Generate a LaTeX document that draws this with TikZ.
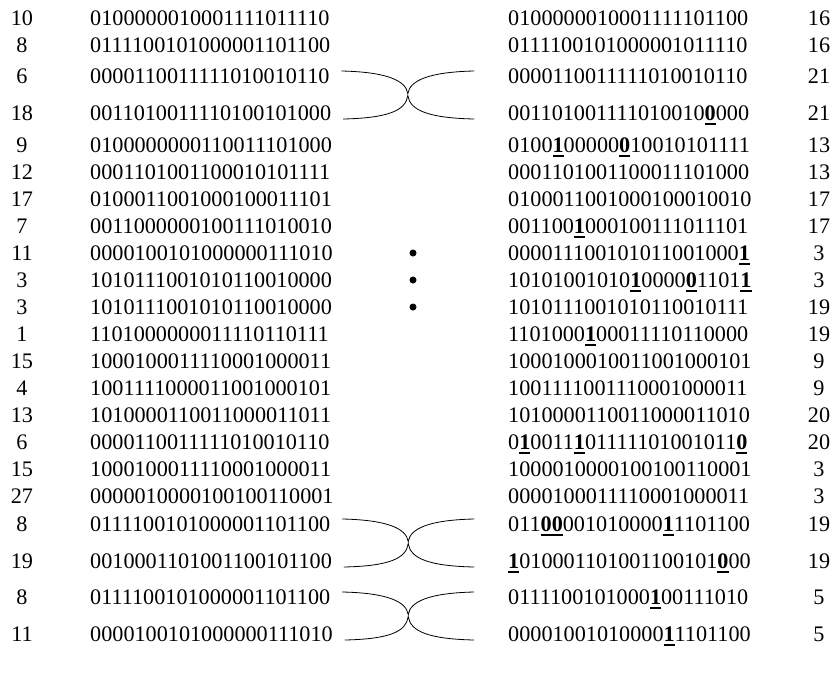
\documentclass[tikz,border=0pt]{standalone}
\usepackage{fontspec}
\setmainfont{Liberation Serif}
\usetikzlibrary{calc}
\newcommand{\ub}[1]{\setbox0\hbox{\textbf{#1}}\rlap{\rule[-4.5pt]{\wd0}{2.5pt}}\box0\relax}
\begin{document}
\begin{tikzpicture}[x=1pt,y=-1pt,
  txt/.style={inner sep=0pt,font=\fontsize{22.2}{26}\selectfont},
  lnum/.style={txt,anchor=base},
  rnum/.style={txt,anchor=base},
  lstr/.style={txt,anchor=base west},
  rstr/.style={txt,anchor=base west},
  xcurve/.style={line width=0.8pt,line cap=round},
  dotm/.style={circle,fill=black,inner sep=0pt,minimum size=7pt}]
\useasboundingbox (0,0) rectangle (838,675);
\def\lx{22}\def\sx{90}\def\rx{508}\def\mx{819}
\foreach \i/\b/\ln/\ls/\rs/\rn in {
 1/25.5/10/0100000010001111011110/0100000010001111101100/16,
 2/52.5/8/0111100101000001101100/0111100101000001011110/16,
 3/83.5/6/0000110011111010010110/0000110011111010010110/21,
 4/120.5/18/0011010011110100101000/{001101001111010010\ub{0}000}/21,
 5/152.5/9/0100000000110011101000/{0100\ub{1}00000\ub{0}10010101111}/13,
 6/179.5/12/0001101001100010101111/0001101001100011101000/13,
 7/206.5/17/0100011001000100011101/0100011001000100010010/17,
 8/233.5/7/0011000000100111010010/{001100\ub{1}000100111011101}/17,
 9/260.5/11/0000100101000000111010/{000011100101011001000\ub{1}}/3,
 10/287.5/3/1010111001010110010000/{10101001010\ub{1}0000\ub{0}1101\ub{1}}/3,
 11/314.5/3/1010111001010110010000/1010111001010110010111/19,
 12/341.5/1/1101000000011110110111/{1101000\ub{1}00011110110000}/19,
 13/368.5/15/1000100011110001000011/1000100010011001000101/9,
 14/395.5/4/1001111000011001000101/1001111001110001000011/9,
 15/422.5/13/1010000110011000011011/1010000110011000011010/20,
 16/449.5/6/0000110011111010010110/{0\ub{1}0011\ub{1}01111101001011\ub{0}}/20,
 17/476.5/15/1000100011110001000011/1000010000100100110001/3,
 18/503.5/27/0000010000100100110001/0000100011110001000011/3,
 19/531.5/8/0111100101000001101100/{011\ub{00}001010000\ub{1}1101100}/19,
 20/568.5/19/0010001101001100101100/{\ub{1}010001101001100101\ub{0}00}/19,
 21/604.5/8/0111100101000001101100/{0111100101000\ub{1}00111010}/5,
 22/641.5/11/0000100101000000111010/{00001001010000\ub{1}1101100}/5}{
  \node[lnum] (n\i) at (\lx,\b) {\ln};
  \node[lstr] (l\i) at (\sx,\b) {\ls};
  \node[rstr] (r\i) at (\rx,\b) {\rs};
  \node[rnum] (m\i) at (\mx,\b) {\rn};
}
% bullets
\node[dotm] (d1) at (413,253) {};
\node[dotm] (d2) at (413,280) {};
\node[dotm] (d3) at (413,307) {};
% crossover curves
\foreach \a/\c in {3/4,19/20,21/22}{
  \coordinate (ta\a) at ([xshift=12pt,yshift=12.5pt]l\a.base east);
  \coordinate (tb\a) at ([xshift=-34pt,yshift=12.5pt]r\a.base west);
  \coordinate (ba\a) at ([xshift=12pt,yshift=1.5pt]l\c.base east);
  \coordinate (bb\a) at ([xshift=-34pt,yshift=1.5pt]r\c.base west);
  \coordinate (ct\a) at ([yshift=1.5pt]$(ta\a)!0.5!(bb\a)$);
  \coordinate (cb\a) at ([yshift=-0.5pt]$(ta\a)!0.5!(bb\a)$);
  \draw[xcurve] (ta\a) .. controls +(45,1) and +(-2,-13) .. (ct\a)
                       .. controls +(2,-13) and +(-45,1) .. (tb\a);
  \draw[xcurve] (ba\a) .. controls +(45,-1) and +(-2,15) .. (cb\a)
                       .. controls +(2,15) and +(-45,-1) .. (bb\a);
}
\end{tikzpicture}
\end{document}
